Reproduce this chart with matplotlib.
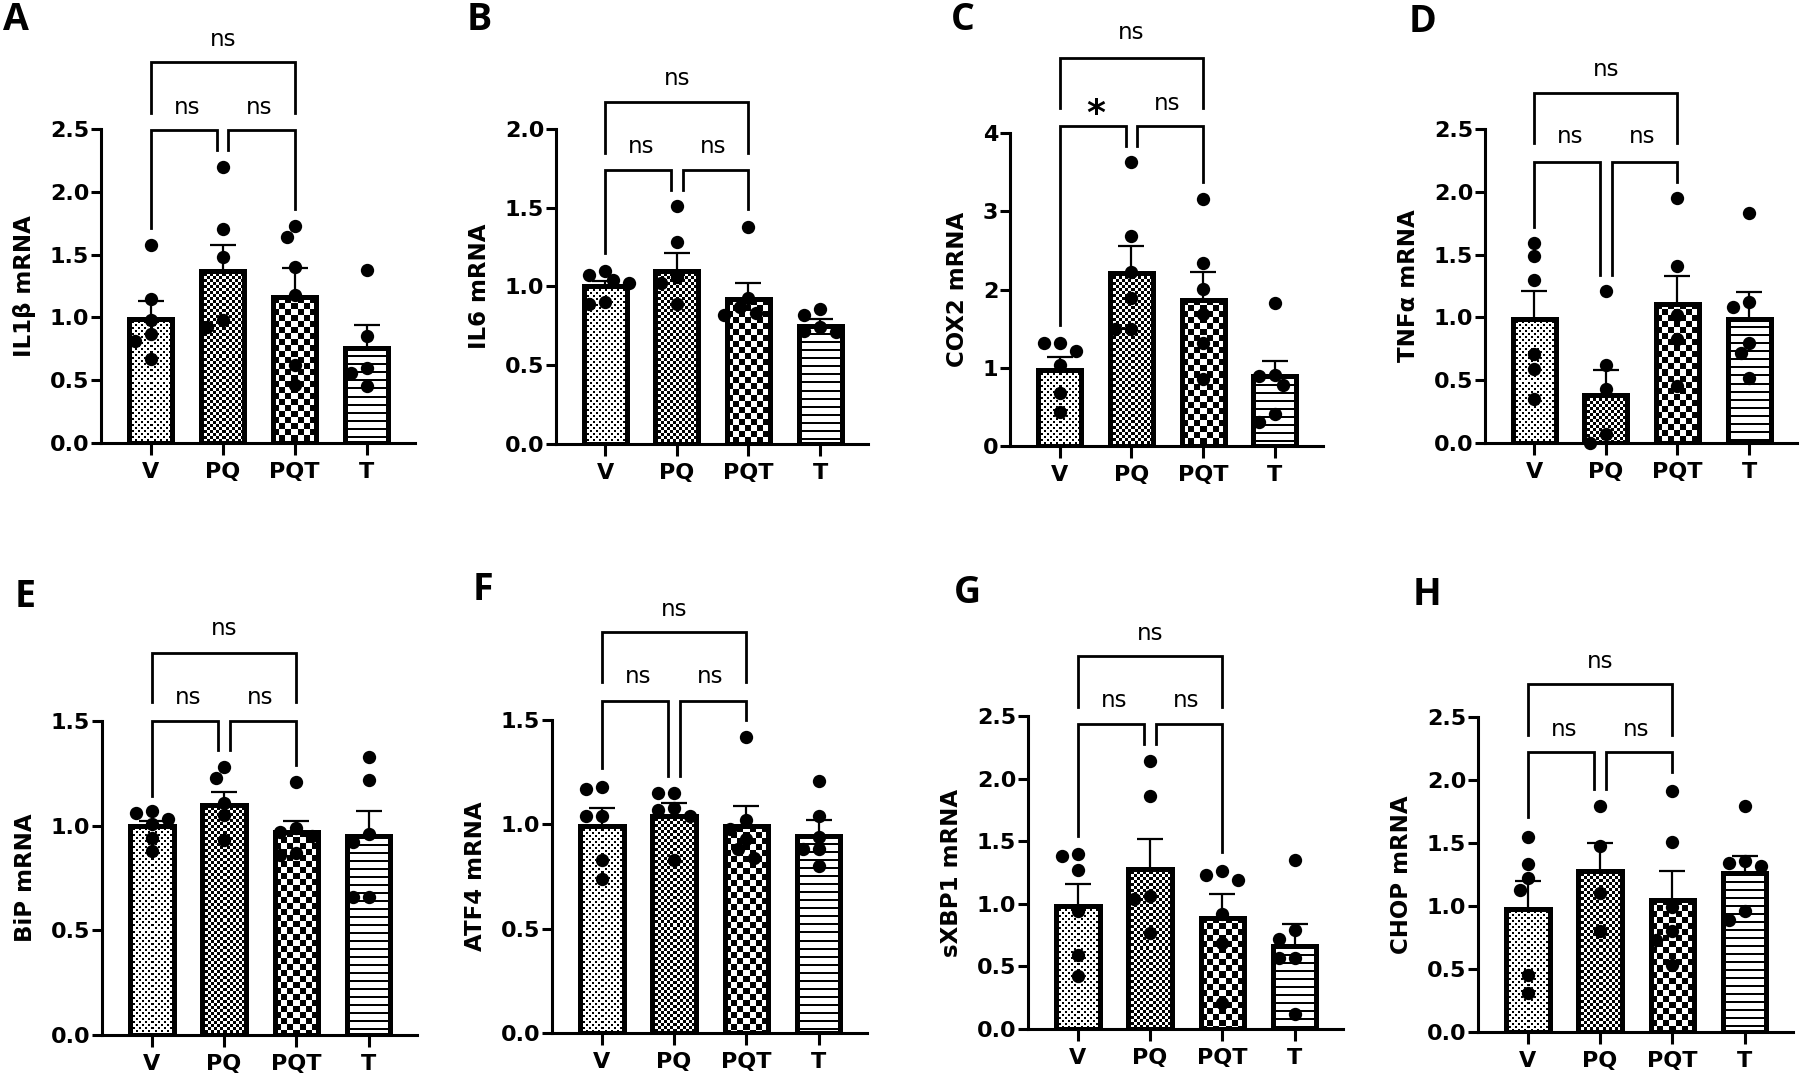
import numpy as np
import matplotlib
matplotlib.use('Agg')
import matplotlib.pyplot as plt
from matplotlib.patches import Rectangle

W, H = 1800, 1078
fig = plt.figure(figsize=(W / 100, H / 100), dpi=100)

groups = ['V', 'PQ', 'PQT', 'T']

# bar means, SEM and individual points
il1b_mean = [0.99, 1.37, 1.16, 0.76]
il1b_sem = [0.14, 0.21, 0.23, 0.18]
il1b_pts = [[1.58, 1.15, 0.98, 0.87, 0.81, 0.67], [2.20, 1.70, 1.48, 0.98, 0.92],
            [1.73, 1.64, 1.40, 1.18, 0.62, 0.46], [1.38, 0.85, 0.60, 0.56, 0.45]]

il6_mean = [1.00, 1.10, 0.92, 0.75]
il6_sem = [0.035, 0.11, 0.10, 0.045]
il6_pts = [[1.10, 1.07, 1.04, 1.02, 0.90, 0.89], [1.51, 1.28, 1.06, 1.02, 0.89],
           [1.38, 0.93, 0.87, 0.83, 0.82], [0.86, 0.82, 0.74, 0.72, 0.71]]

cox2_mean = [0.97, 2.21, 1.87, 0.89]
cox2_sem = [0.17, 0.35, 0.35, 0.19]
cox2_pts = [[1.32, 1.32, 1.21, 1.03, 0.68, 0.43], [3.63, 2.68, 2.22, 1.89, 1.50, 1.50],
            [3.16, 2.34, 2.01, 1.69, 1.31, 0.86], [1.83, 0.91, 0.89, 0.78, 0.41, 0.31]]

tnfa_mean = [0.99, 0.38, 1.11, 0.99]
tnfa_sem = [0.22, 0.20, 0.22, 0.21]
tnfa_pts = [[1.59, 1.49, 1.30, 0.71, 0.59, 0.35], [1.21, 0.62, 0.43, 0.07, 0.0],
            [1.95, 1.41, 1.02, 0.83, 0.45], [1.83, 1.12, 1.08, 0.80, 0.72, 0.52]]

bip_mean = [1.00, 1.10, 0.97, 0.95]
bip_sem = [0.02, 0.06, 0.05, 0.12]
bip_pts = [[1.07, 1.06, 1.03, 1.01, 0.94, 0.88], [1.28, 1.23, 1.11, 1.05, 0.93],
           [1.21, 0.99, 0.97, 0.95, 0.87, 0.86], [1.33, 1.22, 0.96, 0.92, 0.66, 0.66]]

atf4_mean = [0.99, 1.04, 0.99, 0.945]
atf4_sem = [0.09, 0.06, 0.10, 0.075]
atf4_pts = [[1.18, 1.17, 1.04, 1.04, 0.83, 0.74], [1.15, 1.15, 1.08, 1.07, 1.04, 0.83],
            [1.42, 1.02, 0.98, 0.93, 0.88, 0.84], [1.21, 1.04, 0.94, 0.88, 0.88, 0.80]]

sxbp1_mean = [0.98, 1.28, 0.89, 0.66]
sxbp1_sem = [0.18, 0.24, 0.19, 0.18]
sxbp1_pts = [[1.40, 1.38, 1.27, 0.94, 0.59, 0.42], [2.14, 1.86, 1.06, 1.04, 0.77],
             [1.26, 1.23, 1.19, 0.92, 0.69, 0.21], [1.35, 0.79, 0.72, 0.57, 0.57, 0.12]]

chop_mean = [0.98, 1.28, 1.05, 1.26]
chop_sem = [0.22, 0.22, 0.23, 0.14]
chop_pts = [[1.55, 1.33, 1.22, 1.13, 0.45, 0.31], [1.79, 1.48, 1.10, 0.80],
            [1.91, 1.51, 0.99, 0.80, 0.73, 0.53], [1.79, 1.36, 1.34, 1.32, 0.96, 0.89]]

# significance labels: (V vs PQ, PQ vs PQT, V vs PQT)
ns3 = ['ns', 'ns', 'ns']
cox2_sig = ['*', 'ns', 'ns']

# panel layout in pixels: (left, axis bottom y, width, height), letter position
# brackets: v_leg, pq_leg, pqt_leg, low_y, top_leg, top_y, mid_text, top_text
panels = [
    dict(letter='A', ylabel='IL1β mRNA', mean=il1b_mean, sem=il1b_sem, pts=il1b_pts,
         ymax=2.5, step=0.5, fmt='{:.1f}', rect=(101, 443, 314, 314), lpos=(16, 20),
         br=(1.71, 2.33, 1.86, 2.49, 2.63, 3.03, 2.67, 3.21), sig=ns3),
    dict(letter='B', ylabel='IL6 mRNA', mean=il6_mean, sem=il6_sem, pts=il6_pts,
         ymax=2.0, step=0.5, fmt='{:.1f}', rect=(556, 444, 312, 315), lpos=(479, 20),
         br=(1.21, 1.61, 1.49, 1.74, 1.85, 2.17, 1.89, 2.32), sig=ns3),
    dict(letter='C', ylabel='COX2 mRNA', mean=cox2_mean, sem=cox2_sem, pts=cox2_pts,
         ymax=4, step=1, fmt='{:.0f}', rect=(1010, 446, 313, 313), lpos=(963, 20),
         br=(1.55, 3.83, 3.37, 4.09, 4.32, 4.96, 4.38, 5.28), sig=cox2_sig),
    dict(letter='D', ylabel='TNFα mRNA', mean=tnfa_mean, sem=tnfa_sem, pts=tnfa_pts,
         ymax=2.5, step=0.5, fmt='{:.1f}', rect=(1485, 443, 312, 314), lpos=(1422, 22),
         br=(1.72, 1.34, 2.08, 2.24, 2.39, 2.79, 2.44, 2.97), sig=ns3),
    dict(letter='E', ylabel='BiP mRNA', mean=bip_mean, sem=bip_sem, pts=bip_pts,
         ymax=1.5, step=0.5, fmt='{:.1f}', rect=(102, 1035, 315, 314), lpos=(25, 597),
         br=(1.14, 1.36, 1.29, 1.50, 1.59, 1.825, 1.61, 1.94), sig=ns3),
    dict(letter='F', ylabel='ATF4 mRNA', mean=atf4_mean, sem=atf4_sem, pts=atf4_pts,
         ymax=1.5, step=0.5, fmt='{:.1f}', rect=(552, 1033, 315, 313), lpos=(483, 590),
         br=(1.27, 1.23, 1.50, 1.59, 1.68, 1.92, 1.71, 2.03), sig=ns3),
    dict(letter='G', ylabel='sXBP1 mRNA', mean=sxbp1_mean, sem=sxbp1_sem, pts=sxbp1_pts,
         ymax=2.5, step=0.5, fmt='{:.1f}', rect=(1028, 1029, 315, 313), lpos=(967, 593),
         br=(1.54, 2.28, 1.41, 2.44, 2.57, 2.98, 2.62, 3.16), sig=ns3),
    dict(letter='H', ylabel='CHOP mRNA', mean=chop_mean, sem=chop_sem, pts=chop_pts,
         ymax=2.5, step=0.5, fmt='{:.1f}', rect=(1478, 1032, 315, 315), lpos=(1427, 595),
         br=(1.71, 1.93, 2.06, 2.22, 2.36, 2.76, 2.40, 2.94), sig=ns3),
]

patterns = ['dots', 'fine', 'checker', 'lines']
XL = (-0.69, 3.67)
BAR_W = 0.6


def pattern_img(kind, w, h):
    i, j = np.mgrid[0:h, 0:w]
    if kind == 'dots':
        img = ((i % 6 < 2) & (j % 6 < 2)) | (((i + 3) % 6 < 2) & ((j + 3) % 6 < 2))
    elif kind == 'fine':
        img = ((i // 3 + j // 3) % 2) == 0
    elif kind == 'checker':
        img = ((i // 6 + j // 6) % 2) == 0
    else:
        img = (i % 8) < 2
    return img.astype(float)


def swarm(vals, x0, ppx, ppy, d=13.0, step=8.0):
    placed, xs = [], []
    for v in vals:
        y = v * ppy
        off = 0.0
        for k in [0, -1, 1, -2, 2, -3, 3, -4, 4, -5, 5]:
            off = k * step
            if all((off - po) ** 2 + (y - py) ** 2 >= d * d * 0.85 for po, py in placed):
                break
        placed.append((off, y))
        xs.append(x0 + off / ppx)
    return xs


def bracket(ax, x1, x2, ytop, y1, y2):
    ax.plot([x1, x1, x2, x2], [y1, ytop, ytop, y2], color='black', lw=2.0,
            clip_on=False, solid_joinstyle='miter', zorder=5)


for p in panels:
    l, yb, w, h = p['rect']
    ax = fig.add_axes([l / W, (H - yb) / H, w / W, h / H])
    ymax = p['ymax']
    ppx = w / (XL[1] - XL[0])
    ppy = h / ymax
    x = np.arange(len(groups))

    for k, g in enumerate(groups):
        m = p['mean'][k]
        bar = Rectangle((k - BAR_W / 2, 0), BAR_W, m, facecolor='white', edgecolor='none', zorder=2)
        ax.add_patch(bar)
        img = pattern_img(patterns[k], max(int(round(BAR_W * ppx)), 1), max(int(round(m * ppy)), 1))
        im = ax.imshow(img, cmap='gray_r', vmin=0, vmax=1, interpolation='nearest', aspect='auto',
                       extent=(k - BAR_W / 2, k + BAR_W / 2, 0, m), zorder=2.5)
        im.set_clip_path(bar)
        ax.add_patch(Rectangle((k - BAR_W / 2, 0), BAR_W, m, fill=False, edgecolor='black',
                               lw=3.6, joinstyle='miter', zorder=3))

    ax.errorbar(x, p['mean'], yerr=[np.zeros(4), p['sem']], fmt='none', ecolor='black',
                elinewidth=1.6, capsize=9.5, capthick=1.6, zorder=2.8, clip_on=False)

    for k in range(len(groups)):
        xs = swarm(p['pts'][k], k, ppx, ppy)
        ax.scatter(xs, p['pts'][k], s=92, color='black', zorder=4, clip_on=False, linewidths=0)

    # significance brackets
    v_leg, pq_leg, pqt_leg, low_y, top_leg, top_y, mid_t, top_t = p['br']
    gap = 0.08
    bracket(ax, 0, 1 - gap, low_y, v_leg, pq_leg)
    bracket(ax, 1 + gap, 2, low_y, pq_leg, pqt_leg)
    bracket(ax, 0, 2, top_y, top_leg, top_leg)
    for (xc, yc), lab in zip([(0.5, mid_t), (1.5, mid_t), (1.0, top_t)], p['sig']):
        if lab == '*':
            ax.annotate(lab, xy=(xc, yc), xytext=(0, -8), textcoords='offset points',
                        ha='center', va='center', fontsize=26, fontweight='bold',
                        annotation_clip=False)
        else:
            ax.text(xc, yc, lab, ha='center', va='center', fontsize=16.5, clip_on=False)

    ax.set_xlim(*XL)
    ax.set_ylim(0, ymax)
    yt = np.arange(0, ymax + 1e-9, p['step'])
    ax.set_yticks(yt)
    ax.set_yticklabels([p['fmt'].format(v) for v in yt], fontsize=16, fontweight='bold')
    ax.set_xticks(x)
    ax.set_xticklabels(groups, fontsize=16, fontweight='bold')
    ax.tick_params(axis='y', direction='out', length=7, width=2.2, pad=1.5)
    ax.tick_params(axis='x', direction='out', length=8.6, width=2.2, pad=5)
    for s in ['top', 'right']:
        ax.spines[s].set_visible(False)
    for s in ['left', 'bottom']:
        ax.spines[s].set_linewidth(2.2)
    ax.set_ylabel(p['ylabel'], fontsize=16.5, fontweight='bold', labelpad=10)
    ax.patch.set_alpha(0)

    lx, ly = p['lpos']
    fig.text(lx / W, 1 - ly / H, p['letter'], ha='center', va='center', fontsize=27,
             fontweight='bold', family=['Open Sans', 'DejaVu Sans'])

fig.savefig('out.png', dpi=100)
